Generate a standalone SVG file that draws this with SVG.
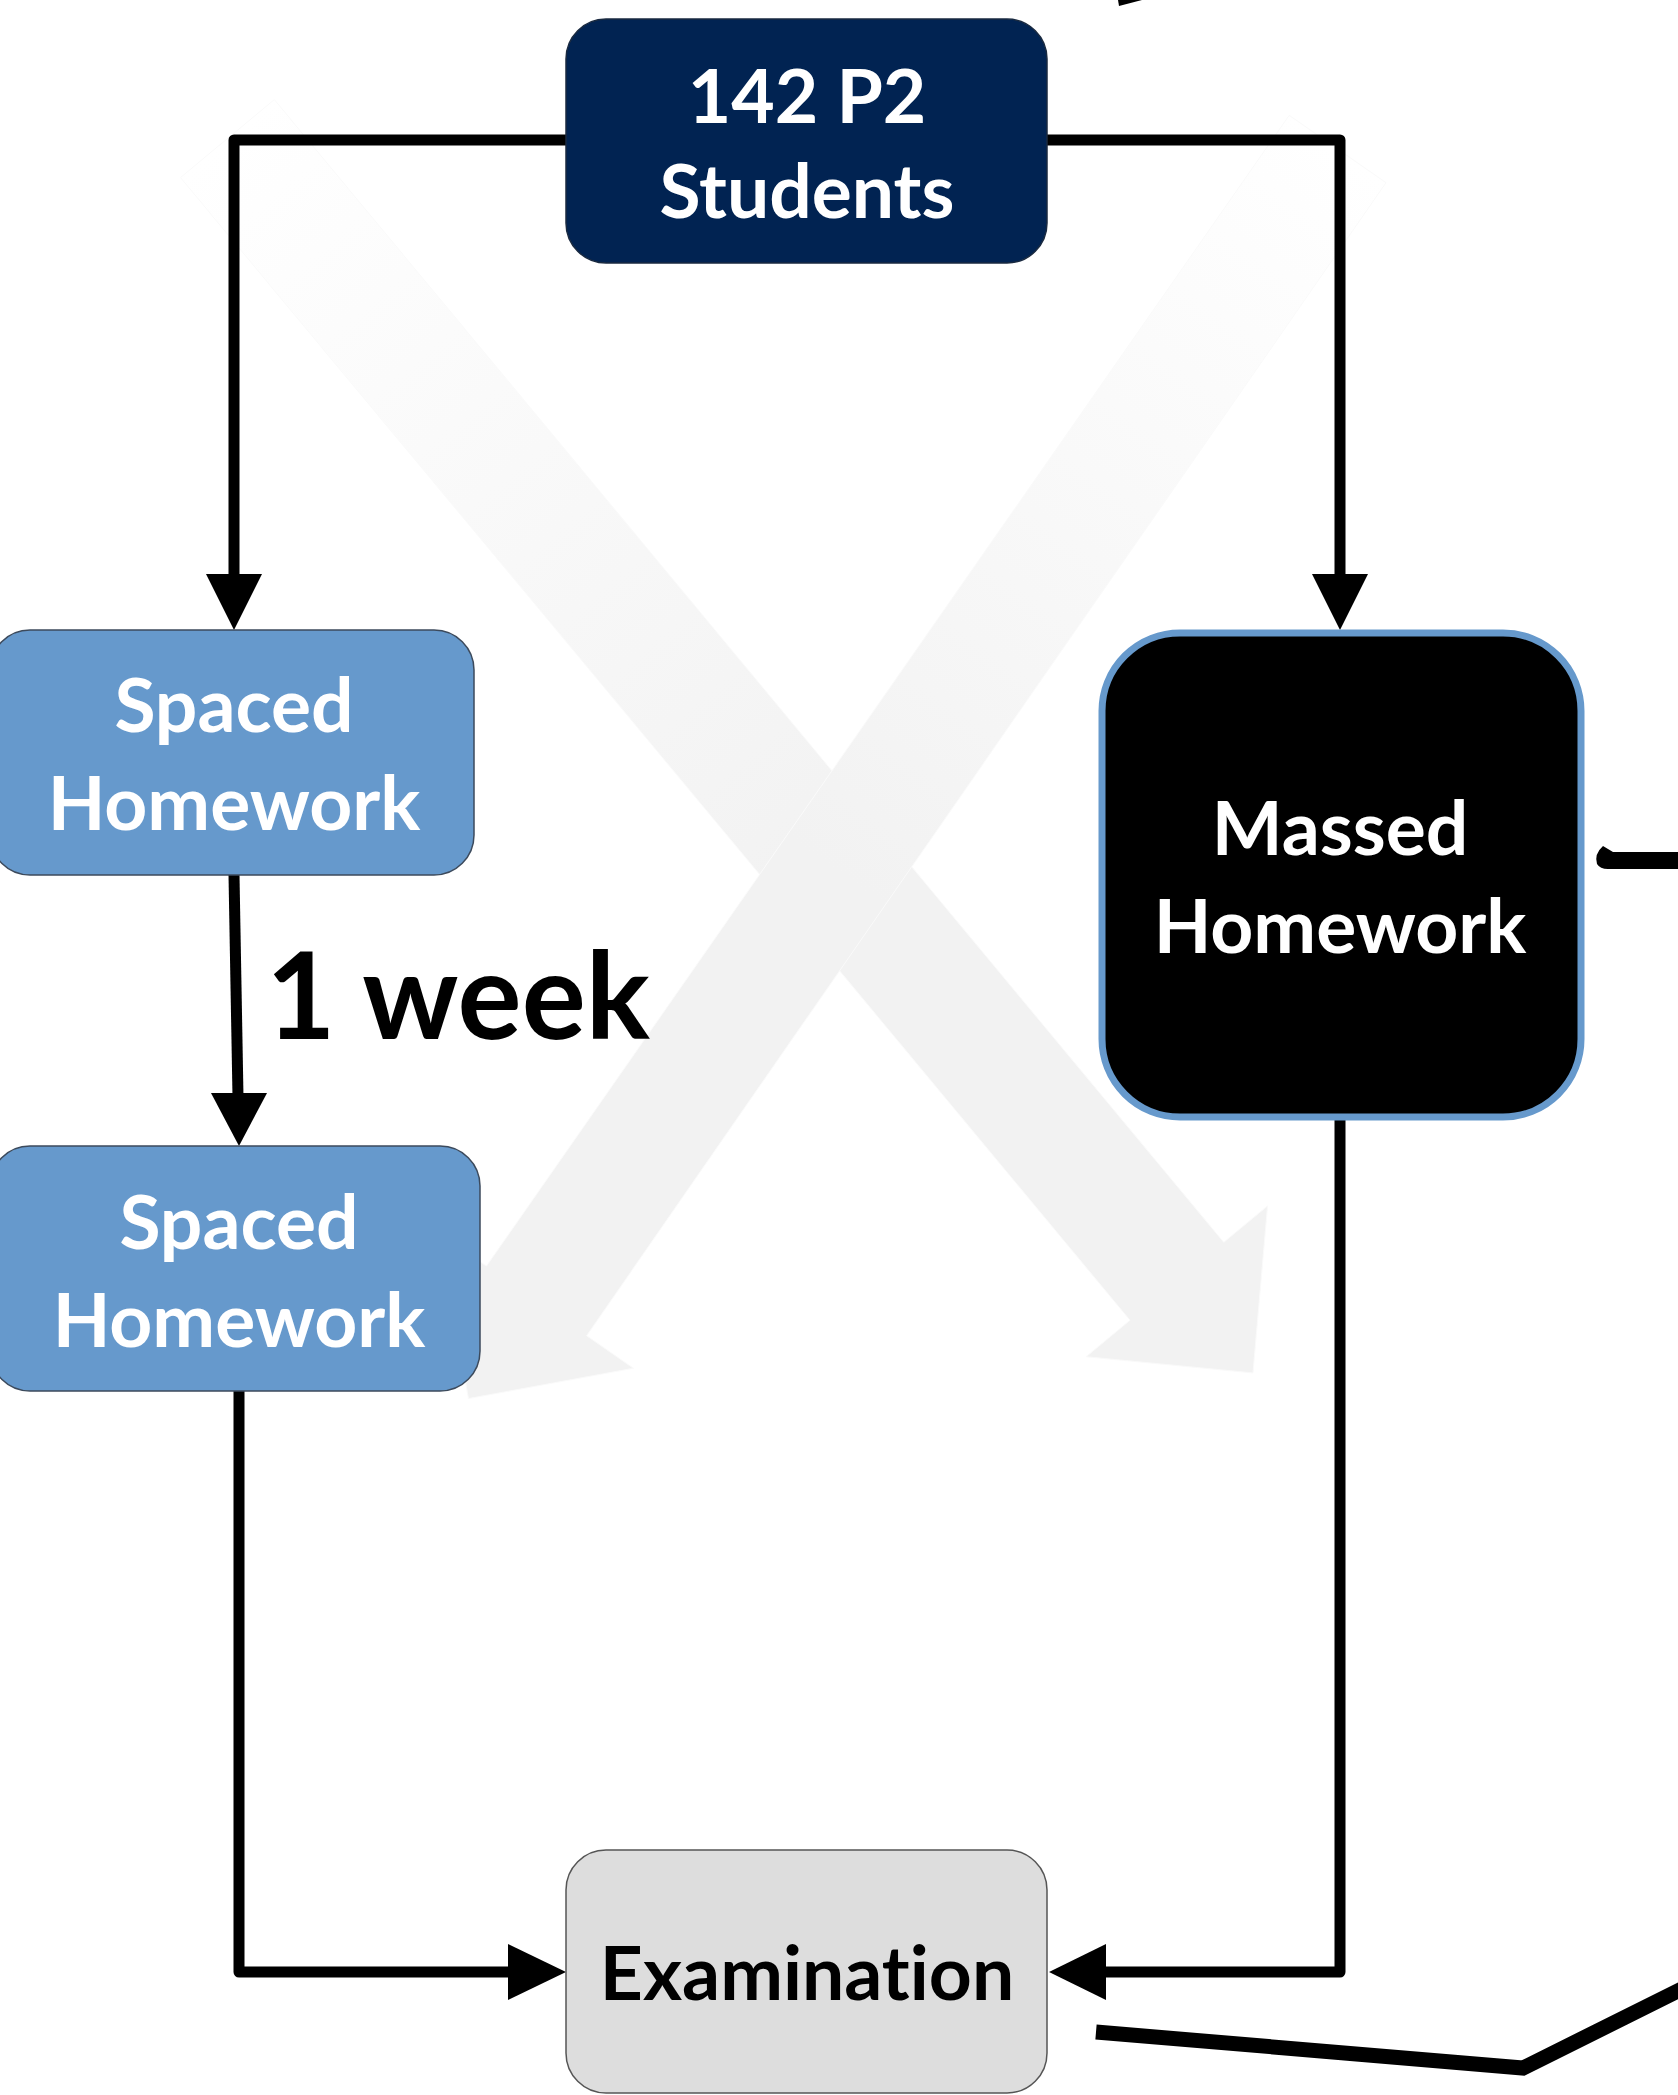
<svg xmlns="http://www.w3.org/2000/svg" width="1678" height="2095" viewBox="0 0 1678 2095">
  <defs>
    <linearGradient id="g1" gradientUnits="userSpaceOnUse" x1="227" y1="138" x2="836" y2="871">
      <stop offset="0" stop-color="#ffffff"/>
      <stop offset="0.15" stop-color="#fdfdfd"/>
      <stop offset="1" stop-color="#f2f2f2"/>
    </linearGradient>
    <linearGradient id="g2" gradientUnits="userSpaceOnUse" x1="1338" y1="149" x2="836" y2="871">
      <stop offset="0" stop-color="#ffffff"/>
      <stop offset="0.15" stop-color="#fdfdfd"/>
      <stop offset="1" stop-color="#f2f2f2"/>
    </linearGradient>
    <style>
      text { font-variant-ligatures: none; }
      .lbl { font-family: Lato, "Open Sans", "Liberation Sans", sans-serif; font-weight: bold; font-size: 75px; text-anchor: middle; fill: #ffffff; }
      .dark { fill: #000000; }
      .conn { fill: none; stroke: #000000; stroke-width: 11; stroke-linejoin: round; }
      .head { fill: #000000; }
      .bg { stroke: #fafafa; stroke-width: 1; }
    </style>
  </defs>
  <rect width="1678" height="2095" fill="#ffffff"/>

  <g id="background-arrows">
    <polygon class="bg" fill="url(#g1)" points="274.3,99.6 1223.8,1242.3 1267.6,1205.9 1253,1372.9 1086.2,1356.7 1130,1320.3 180.5,177.6"/>
    <polygon class="bg" fill="url(#g2)" points="1289.2,115.3 486.4,1266.1 439.6,1233.5 468.5,1398.6 633.4,1368.3 586.6,1335.7 1386,182.7"/>
  </g>

  <g id="connectors">
    <path class="conn" d="M566,140 H234 V578"/>
    <polygon class="head" points="206,574 262,574 234,630"/>
    <path class="conn" d="M1047,140 H1340 V578"/>
    <polygon class="head" points="1312,574 1368,574 1340,630"/>
    <path class="conn" d="M234,875 L238,1097"/>
    <polygon class="head" points="211,1093 267,1093 239,1146"/>
    <path class="conn" d="M239,1391 V1972 H512"/>
    <polygon class="head" points="508,1944 508,2000 566,1972"/>
    <path class="conn" d="M1340,1120 V1972 H1102"/>
    <polygon class="head" points="1106,1944 1106,2000 1049,1972"/>
    <polyline fill="none" stroke="#000000" stroke-width="15" points="1096,2032 1523,2068 1690,1985"/>
    <path fill="#000000" d="M1678,852 H1613 L1603,846 Q1594,854 1597,864 Q1600,869 1608,869 H1678 Z"/>
    <polygon fill="#000000" points="1118,0 1119,6 1142,0"/>
  </g>

  <g id="node-students">
    <rect x="566" y="19" width="481" height="244" rx="40" fill="#012352" stroke="#1a2a40" stroke-width="1.5"/>
    <text class="lbl" x="807" y="123">142 P2</text>
    <text class="lbl" x="807" y="218">Students</text>
  </g>

  <g id="node-spaced-1">
    <rect x="-10" y="630" width="484" height="245" rx="40" fill="#6699cc" stroke="#3c4a5c" stroke-width="1.5"/>
    <text class="lbl" x="234" y="732">Spaced</text>
    <text class="lbl" x="234" y="830">Homework</text>
  </g>

  <g id="label-1-week">
    <text x="266" y="1039" font-family="Lato, 'Open Sans', 'Liberation Sans', sans-serif" font-weight="bold" font-size="120" fill="#000000">1 week</text>
  </g>

  <g id="node-spaced-2">
    <rect x="-10" y="1146" width="490" height="245" rx="40" fill="#6699cc" stroke="#3c4a5c" stroke-width="1.5"/>
    <text class="lbl" x="239" y="1249">Spaced</text>
    <text class="lbl" x="239" y="1347">Homework</text>
  </g>

  <g id="node-massed">
    <rect x="1102" y="633" width="479" height="484" rx="78" fill="#000000" stroke="#6699cc" stroke-width="7"/>
    <text class="lbl" x="1340" y="855">Massed</text>
    <text class="lbl" x="1340" y="953">Homework</text>
  </g>

  <g id="node-examination">
    <rect x="566" y="1850" width="481" height="243" rx="40" fill="#dddddd" stroke="#555555" stroke-width="1.5"/>
    <text class="lbl dark" x="807" y="2000">Examination</text>
  </g>
</svg>
